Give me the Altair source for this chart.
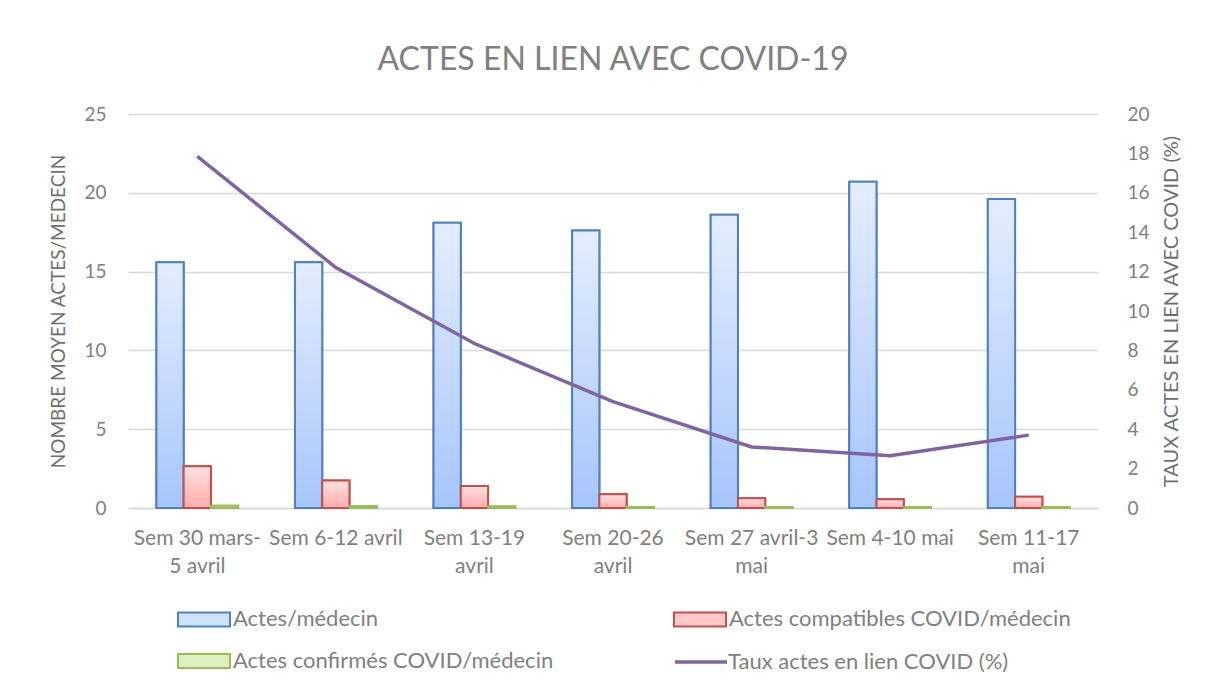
import altair as alt
import pandas as pd

# ---------------- data ----------------
categories = [
    "Sem 30 mars-5 avril",
    "Sem 6-12 avril",
    "Sem 13-19 avril",
    "Sem 20-26 avril",
    "Sem 27 avril-3 mai",
    "Sem 4-10 mai",
    "Sem 11-17 mai",
]
category_lines = [
    ["Sem 30 mars-", "5 avril"],
    ["Sem 6-12 avril"],
    ["Sem 13-19", "avril"],
    ["Sem 20-26", "avril"],
    ["Sem 27 avril-3", "mai"],
    ["Sem 4-10 mai"],
    ["Sem 11-17", "mai"],
]
actes = [15.6, 15.6, 18.1, 17.6, 18.6, 20.7, 19.6]
compatibles = [2.65, 1.75, 1.4, 0.87, 0.62, 0.55, 0.72]
confirmes = [0.15, 0.12, 0.1, 0.07, 0.06, 0.05, 0.06]
taux = [17.85, 12.2, 8.35, 5.4, 3.1, 2.65, 3.7]

series_names = [
    "Actes/médecin",
    "Actes compatibles COVID/médecin",
    "Actes confirmés COVID/médecin",
]
line_name = "Taux actes en lien COVID (%)"

title_text = "ACTES EN LIEN AVEC COVID-19"
left_title = "NOMBRE MOYEN ACTES/MEDECIN"
right_title = "TAUX ACTES EN LIEN AVEC COVID (%)"

# ---------------- styles ----------------
FONT = "Lato"
TXT = "#808080"
TITLE_TXT = "#6f6f6f"
GRID = "#d9d9d9"
stroke_colors = ["#4f81bd", "#c0504d", "#9bbb59"]
legend_fills = ["#cfe0fb", "#ffc9c9", "#dcefbf"]
grad_stops = [
    ("#e4edfd", "#a7c5fb"),
    ("#ffe1e1", "#ffacac"),
    ("#ecf6dc", "#c3e39a"),
]
line_color = "#8064a2"

rows = []
for i, c in enumerate(categories):
    for s, vals in zip(series_names, [actes, compatibles, confirmes]):
        rows.append({"cat": c, "series": s, "value": vals[i]})
bars_df = pd.DataFrame(rows)
line_df = pd.DataFrame({"cat": categories, "series": [line_name] * len(categories), "taux": taux})

# multi-line labels through nested ternaries
expr = "datum.label"
for c, lines in reversed(list(zip(categories, category_lines))):
    arr = "[" + ",".join("'" + l + "'" for l in lines) + "]"
    expr = f"datum.label === '{c}' ? {arr} : ({expr})"
label_expr = expr

x_scale = alt.Scale(domain=categories, paddingInner=0.41, paddingOuter=0.205)
x_axis = alt.Axis(
    title=None, labelExpr=label_expr, labelAngle=0, labelFont=FONT, labelFontSize=21,
    labelColor=TXT, labelPadding=19, labelLineHeight=28, labelBaseline="top",
    labelOverlap=False, labelLimit=0, ticks=False, domainColor=GRID, domainWidth=1.5,
)
x_enc = alt.X("cat:N", sort=categories, scale=x_scale, axis=x_axis)
xoff_enc = alt.XOffset("series:N", scale=alt.Scale(domain=series_names, paddingInner=0, paddingOuter=0))

left_axis = alt.Axis(
    title=left_title, titleFont=FONT, titleFontSize=19, titleFontWeight="normal",
    titleColor=TITLE_TXT, titlePadding=15, values=[0, 5, 10, 15, 20, 25],
    labelFont=FONT, labelFontSize=19, labelColor=TXT, labelPadding=22,
    grid=True, gridColor=GRID, gridWidth=1.5, domain=False, ticks=False,
)
y_bar = alt.Y("value:Q", scale=alt.Scale(domain=[0, 25], nice=False), axis=left_axis)

bar_legend = alt.Legend(
    title=None, orient="none", direction="horizontal", legendX=62, legendY=491, columns=2,
    columnPadding=116, rowPadding=16, symbolType="M-2,-0.54H2V0.54H-2Z", symbolSize=676,
    symbolStrokeWidth=2, labelFont=FONT, labelFontSize=22, labelColor=TXT, labelOffset=15,
    labelLimit=0,
)

base_bars = alt.Chart(bars_df).mark_bar(strokeWidth=2).encode(
    x=x_enc,
    xOffset=xoff_enc,
    y=y_bar,
    fill=alt.Fill("series:N", scale=alt.Scale(domain=series_names, range=legend_fills), legend=bar_legend),
    stroke=alt.Stroke("series:N", scale=alt.Scale(domain=series_names, range=stroke_colors), legend=bar_legend),
)

grad_layers = []
for s, sc, (c0, c1) in zip(series_names, stroke_colors, grad_stops):
    grad = alt.LinearGradient(
        gradient="linear",
        stops=[alt.GradientStop(color=c0, offset=0), alt.GradientStop(color=c1, offset=1)],
        x1=0, x2=0, y1=0, y2=1,
    )
    layer = alt.Chart(bars_df).transform_filter(alt.datum.series == s).mark_bar(
        fill=grad, stroke=sc, strokeWidth=2
    ).encode(x=x_enc, xOffset=xoff_enc, y=y_bar)
    grad_layers.append(layer)

bars = alt.layer(base_bars, *grad_layers)

right_axis = alt.Axis(
    orient="right", title=right_title, titleFont=FONT, titleFontSize=20, titleFontWeight="normal",
    titleColor=TITLE_TXT, titleAngle=270, titleBaseline="top", titlePadding=12,
    values=list(range(0, 21, 2)),
    labelFont=FONT, labelFontSize=19, labelColor=TXT, labelPadding=29, labelAlign="left",
    grid=False, domain=False, ticks=False,
)
line_legend = alt.Legend(
    title=None, orient="none", legendX=558, legendY=533, symbolType="M-2,0H2", symbolSize=676,
    symbolStrokeWidth=3.5, labelFont=FONT, labelFontSize=22, labelColor=TXT, labelOffset=12,
    labelLimit=0,
)
line = alt.Chart(line_df).mark_line(strokeWidth=3.5).encode(
    x=alt.X("cat:N", sort=categories, scale=x_scale, axis=x_axis),
    y=alt.Y("taux:Q", scale=alt.Scale(domain=[0, 20], nice=False), axis=right_axis),
    color=alt.Color("series:N", scale=alt.Scale(domain=[line_name], range=[line_color]), legend=line_legend),
)

chart = alt.layer(bars, line).resolve_scale(y="independent").properties(
    width=970,
    height=394,
    autosize=alt.AutoSizeParams(type="none"),
    padding={"left": 120, "top": 106, "right": 95, "bottom": 165},
    title=alt.TitleParams(
        title_text, font=FONT, fontSize=32, fontWeight="normal", color=TXT,
        anchor="middle", offset=28,
    ),
).configure_view(stroke=None)

chart.save("out.html", embed_options={"renderer": "svg", "actions": False})
